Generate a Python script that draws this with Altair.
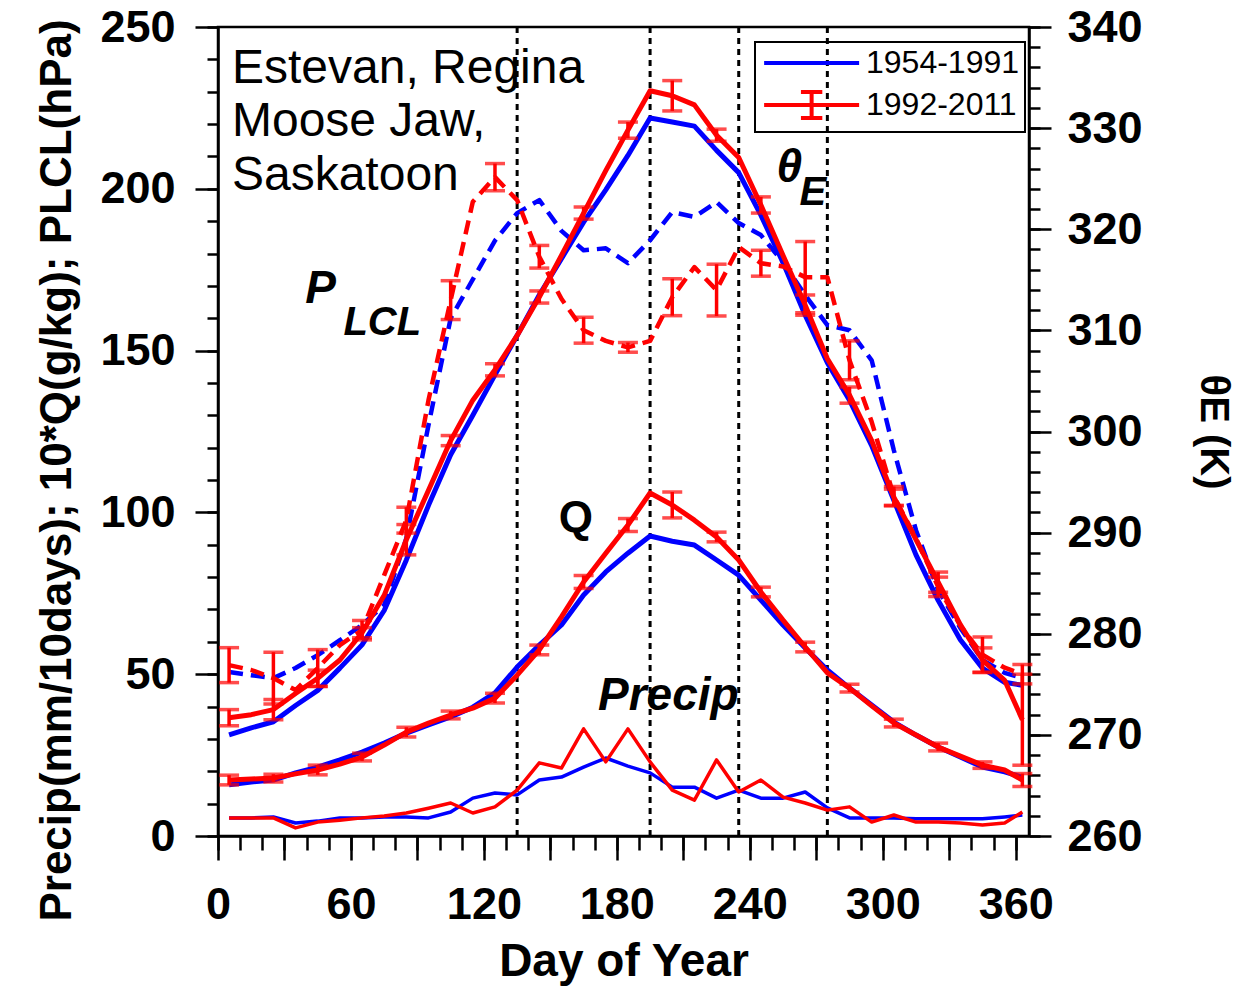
import altair as alt
import pandas as pd

# ---------------- data ----------------
days = [5, 15, 25, 35, 45, 55, 65, 75, 85, 95, 105, 115, 125, 135, 145, 155, 165, 175,
        185, 195, 205, 215, 225, 235, 245, 255, 265, 275, 285, 295, 305, 315, 325, 335,
        345, 355, 363]

theta_1954 = [270.0, 270.7, 271.3, 272.9, 274.4, 276.6, 278.9, 282.3, 287.3, 292.7, 297.7,
              301.6, 305.6, 309.5, 313.5, 317.1, 320.7, 323.9, 327.3, 331.0, 330.6, 330.2,
              327.8, 325.6, 321.4, 316.7, 311.5, 306.8, 303.1, 298.6, 293.2, 287.8, 283.3,
              279.4, 276.6, 275.2, 274.9]
theta_1992 = [271.7, 272.0, 272.5, 274.1, 275.6, 277.4, 280.1, 283.8, 289.3, 294.2, 299.1,
              303.1, 306.1, 309.5, 313.3, 317.4, 321.6, 325.8, 329.8, 333.7, 333.2, 332.3,
              329.3, 327.1, 322.4, 317.4, 312.5, 307.2, 303.6, 299.1, 293.5, 289.3, 285.1,
              280.9, 277.4, 275.4, 271.5]

plcl_1954 = [50.7, 49.7, 48.8, 51.9, 55.9, 60.5, 65.2, 71.4, 92.0, 127.0, 160.0, 172.0,
             184.0, 192.5, 196.5, 187.0, 181.0, 181.6, 177.0, 184.1, 192.8, 191.3, 195.9,
             189.4, 185.7, 177.3, 167.1, 157.9, 156.3, 147.0, 119.2, 94.5, 76.0, 64.3,
             54.4, 50.4, 48.8]
plcl_1992 = [52.8, 51.3, 48.8, 45.1, 51.9, 59.0, 63.6, 80.6, 97.6, 134.7, 165.6, 196.0,
             203.6, 196.5, 179.0, 166.0, 156.3, 153.0, 151.0, 153.0, 166.5, 175.8, 168.7,
             182.0, 177.0, 176.0, 172.7, 172.7, 147.0, 128.0, 105.0, 92.0, 77.0, 65.0,
             56.0, 52.0, 50.0]

q_1954 = [15.8, 16.7, 17.3, 19.5, 21.3, 23.5, 25.9, 28.7, 31.8, 34.3, 36.8, 39.8, 44.2,
          52.2, 59.0, 65.2, 74.5, 81.6, 87.4, 92.7, 91.1, 89.9, 85.3, 80.6, 72.9, 65.2,
          58.1, 51.3, 45.7, 40.5, 35.2, 31.2, 27.5, 24.4, 21.3, 19.8, 18.2]
q_1992 = [17.3, 17.6, 17.9, 19.2, 20.4, 22.2, 24.4, 28.1, 32.1, 34.9, 37.4, 39.5, 42.6,
          49.7, 57.5, 67.7, 78.5, 87.4, 96.1, 106.0, 102.3, 97.6, 92.4, 85.3, 75.4, 66.7,
          58.4, 50.4, 45.7, 40.2, 34.9, 31.2, 27.5, 24.7, 21.9, 20.4, 17.3]

precip_1954 = [5.6, 5.6, 5.9, 4.0, 4.6, 5.6, 5.6, 5.9, 5.9, 5.6, 7.4, 11.7, 13.3, 12.7,
               17.3, 18.2, 21.3, 24.1, 21.6, 19.5, 15.1, 15.1, 11.7, 14.2, 11.7, 11.7, 13.6,
               8.7, 5.6, 5.6, 5.6, 5.3, 5.3, 5.3, 5.3, 5.9, 6.5]
precip_1992 = [5.6, 5.6, 5.6, 2.5, 4.3, 4.9, 5.6, 6.2, 7.1, 8.6, 10.2, 7.1, 9.0, 14.2,
               22.6, 21.0, 33.1, 22.9, 33.1, 22.9, 14.2, 11.1, 23.5, 13.6, 17.3, 12.0, 10.2,
               8.0, 9.0, 4.3, 6.5, 4.3, 4.3, 4.0, 3.4, 4.0, 7.4]

# error bars of the 1992-2011 series (half widths), every 20 days
err_days = [5, 25, 45, 65, 85, 105, 125, 145, 165, 185, 205, 225, 245, 265, 285, 305,
            325, 345, 363]
theta_err = [0.8, 1.0, 0.8, 0.5, 1.5, 0.5, 0.6, 0.6, 0.6, 0.8, 1.5, 0.6, 0.8, 1.0, 0.8,
             0.8, 1.0, 1.2, 4.5]
plcl_err = [5.4, 8.0, 5.7, 3.0, 4.0, 6.0, 4.2, 3.5, 4.0, 1.5, 5.7, 8.0, 4.0, 11.0, 6.0,
            3.0, 3.0, 5.5, 3.0]
q_err = [1.5, 1.2, 1.5, 1.2, 1.5, 1.2, 1.5, 1.5, 2.0, 2.0, 4.0, 1.5, 1.5, 1.5, 1.2, 1.2,
         1.2, 1.0, 2.0]

season_lines = [135, 195, 235, 275]

periods = ["1954-1991", "1992-2011"]

station_lines = ["Estevan, Regina", "Moose Jaw,", "Saskatoon"]
station_day = [6.3, 6.3, 6.3]
station_val = [232.6, 216.3, 199.6]

# ---------------- styling ----------------
FONT = "Liberation Sans"
BLUE = "#0000ff"
RED = "#ff0000"

X = alt.Scale(domain=[0, 366], nice=False, zero=False)
YL = alt.Scale(domain=[0, 250], nice=False, zero=False)
YR = alt.Scale(domain=[260, 340], nice=False, zero=False)

series = pd.DataFrame({
    "day": days,
    "theta_1954": theta_1954, "theta_1992": theta_1992,
    "plcl_1954": plcl_1954, "plcl_1992": plcl_1992,
    "q_1954": q_1954, "q_1992": q_1992,
    "precip_1954": precip_1954, "precip_1992": precip_1992,
})

th_c = dict(zip(days, theta_1992))
pl_c = dict(zip(days, plcl_1992))
q_c = dict(zip(days, q_1992))
errs = pd.DataFrame({
    "day": err_days,
    "theta_lo": [th_c[d] - e for d, e in zip(err_days, theta_err)],
    "theta_hi": [th_c[d] + e for d, e in zip(err_days, theta_err)],
    "plcl_lo": [pl_c[d] - e for d, e in zip(err_days, plcl_err)],
    "plcl_hi": [pl_c[d] + e for d, e in zip(err_days, plcl_err)],
    "q_lo": [q_c[d] - e for d, e in zip(err_days, q_err)],
    "q_hi": [q_c[d] + e for d, e in zip(err_days, q_err)],
})

AX = dict(grid=False, labelFont=FONT, titleFont=FONT, labelColor="black",
          titleColor="black", tickColor="black", domainColor="black",
          labelFlush=False, labelOverlap=False)

x_major = alt.Axis(orient="bottom", values=list(range(0, 361, 30)), tickSize=24,
                   tickWidth=2.5, domainWidth=2.5, labelFontSize=45,
                   labelFontWeight="bold",
                   labelExpr="datum.value % 60 === 0 ? datum.label : ''",
                   labelPadding=22, title="Day of Year", titleFontSize=46,
                   titleFontWeight="bold", titlePadding=12, **AX)
x_minor = alt.Axis(orient="bottom", values=list(range(0, 361, 10)), tickSize=14,
                   tickWidth=2.5, labels=False, domain=False, title=None, **AX)
yl_major = alt.Axis(orient="left", values=list(range(0, 251, 50)), tickSize=23,
                    tickWidth=2.5, domainWidth=2.5, labelFontSize=45,
                    labelFontWeight="bold", labelPadding=20,
                    title="Precip(mm/10days); 10*Q(g/kg); PLCL(hPa)",
                    titleFontSize=44, titleFontWeight="bold", titlePadding=20,
                    titleY=443, **AX)
yl_minor = alt.Axis(orient="left", values=list(range(0, 251, 10)), tickSize=11,
                    tickWidth=2.5, labels=False, domain=False, title=None, **AX)
yr_major = alt.Axis(orient="right", values=list(range(260, 341, 10)), tickSize=22,
                    tickWidth=2.5, domainWidth=2.5, labelFontSize=45,
                    labelFontWeight="bold", labelPadding=16, title="θE (K)",
                    titleFontSize=40, titleFontWeight="bold", titlePadding=50, **AX)
yr_minor = alt.Axis(orient="right", values=list(range(260, 341, 2)), tickSize=11,
                    tickWidth=2.5, labels=False, domain=False, title=None, **AX)


def xenc(axis=None):
    return alt.X("day:Q", scale=X, axis=axis)


def line(field, color, scale, width, dash=None, yaxis=None, xaxis=None):
    kw = dict(color=color, strokeWidth=width, strokeJoin="round")
    if dash:
        kw["strokeDash"] = dash
    return alt.Chart(series).mark_line(**kw).encode(
        x=xenc(xaxis), y=alt.Y(f"{field}:Q", scale=scale, axis=yaxis))


def errbar(lo, hi, scale):
    rule = alt.Chart(errs).mark_rule(color=RED, strokeWidth=3.5).encode(
        x=xenc(), y=alt.Y(f"{lo}:Q", scale=scale, axis=None), y2=f"{hi}:Q")
    cap_lo = alt.Chart(errs).mark_tick(color=RED, orient="horizontal", size=20,
                                       thickness=3.5).encode(
        x=xenc(), y=alt.Y(f"{lo}:Q", scale=scale, axis=None))
    cap_hi = alt.Chart(errs).mark_tick(color=RED, orient="horizontal", size=20,
                                       thickness=3.5).encode(
        x=xenc(), y=alt.Y(f"{hi}:Q", scale=scale, axis=None))
    return [rule, cap_lo, cap_hi]


vlines = alt.Chart(pd.DataFrame({"day": season_lines})).mark_rule(
    color="black", strokeDash=[6, 5], strokeWidth=3).encode(x=xenc(x_major))

layers = [
    vlines,
    line("precip_1954", BLUE, YL, 3.5, yaxis=yl_minor, xaxis=x_minor),
    line("precip_1992", RED, YL, 3.5),
    line("q_1954", BLUE, YL, 5, yaxis=yl_major),
    line("plcl_1954", BLUE, YL, 4.5, dash=[14, 8]),
    line("theta_1954", BLUE, YR, 5, yaxis=yr_major),
    line("q_1992", RED, YL, 5),
    line("plcl_1992", RED, YL, 4.5, dash=[14, 8]),
    line("theta_1992", RED, YR, 5, yaxis=yr_minor),
]
layers += errbar("q_lo", "q_hi", YL)
layers += errbar("plcl_lo", "plcl_hi", YL)
layers += errbar("theta_lo", "theta_hi", YR)

# legend (drawn by the library from an invisible point layer)
blue_sym = "M-1,0H7"
red_sym = "M-1,0H7M3,-1.1V1.1M2.1,-1.1H3.9M2.1,1.1H3.9"
leg = dict(orient="none", legendX=537, legendY=15, title=None, padding=5,
           strokeColor="black", labelFont=FONT, labelFontSize=32, labelColor="black",
           symbolSize=564, symbolStrokeWidth=4, symbolOpacity=1, labelOffset=74,
           rowPadding=4)
legend_df = pd.DataFrame({
    "day": days + days,
    "theta": theta_1954 + theta_1992,
    "period": [periods[0]] * len(days) + [periods[1]] * len(days),
})
legend_layer = alt.Chart(legend_df).mark_point(filled=False, opacity=0).encode(
    x=xenc(),
    y=alt.Y("theta:Q", scale=YR, axis=None),
    color=alt.Color("period:N", scale=alt.Scale(domain=periods, range=[BLUE, RED]),
                    legend=alt.Legend(**leg)),
    shape=alt.Shape("period:N", scale=alt.Scale(domain=periods,
                                                range=[blue_sym, red_sym]),
                    legend=alt.Legend(**leg)),
)
layers.append(legend_layer)

# annotations
station = alt.Chart(pd.DataFrame({"t": station_lines, "day": station_day,
                                  "v": station_val})).mark_text(
    align="left", baseline="alphabetic", fontSize=48, font=FONT, color="black").encode(
    x=xenc(), y=alt.Y("v:Q", scale=YL, axis=None), text="t:N")

big_labels = pd.DataFrame({"t": ["P", "θ", "Precip"], "day": [39.4, 252.0, 171.5],
                           "v": [164.7, 202.0, 38.9]})
sub_labels = pd.DataFrame({"t": ["LCL", "E"], "day": [56.6, 262.4], "v": [154.8, 195.0]})
q_label = pd.DataFrame({"t": ["Q"], "day": [153.8], "v": [94.0]})

big = alt.Chart(big_labels).mark_text(
    align="left", baseline="alphabetic", fontSize=46, font=FONT, fontWeight="bold",
    fontStyle="italic", color="black").encode(
    x=xenc(), y=alt.Y("v:Q", scale=YL, axis=None), text="t:N")
sub = alt.Chart(sub_labels).mark_text(
    align="left", baseline="alphabetic", fontSize=40, font=FONT, fontWeight="bold",
    fontStyle="italic", color="black").encode(
    x=xenc(), y=alt.Y("v:Q", scale=YL, axis=None), text="t:N")
ql = alt.Chart(q_label).mark_text(
    align="left", baseline="alphabetic", fontSize=44, font=FONT, fontWeight="bold",
    color="black").encode(
    x=xenc(), y=alt.Y("v:Q", scale=YL, axis=None), text="t:N")
layers += [station, big, sub, ql]

chart = alt.layer(*layers).resolve_scale(
    x="independent", y="independent"
).properties(
    width=811, height=809,
    padding={"left": 218, "top": 27, "right": 224, "bottom": 156},
    autosize=alt.AutoSizeParams(type="none"),
    background="white",
).configure_view(stroke="black", strokeWidth=2.5).configure_legend(strokeWidth=2)

chart.save("out.html", embed_options={"renderer": "svg", "actions": False})
